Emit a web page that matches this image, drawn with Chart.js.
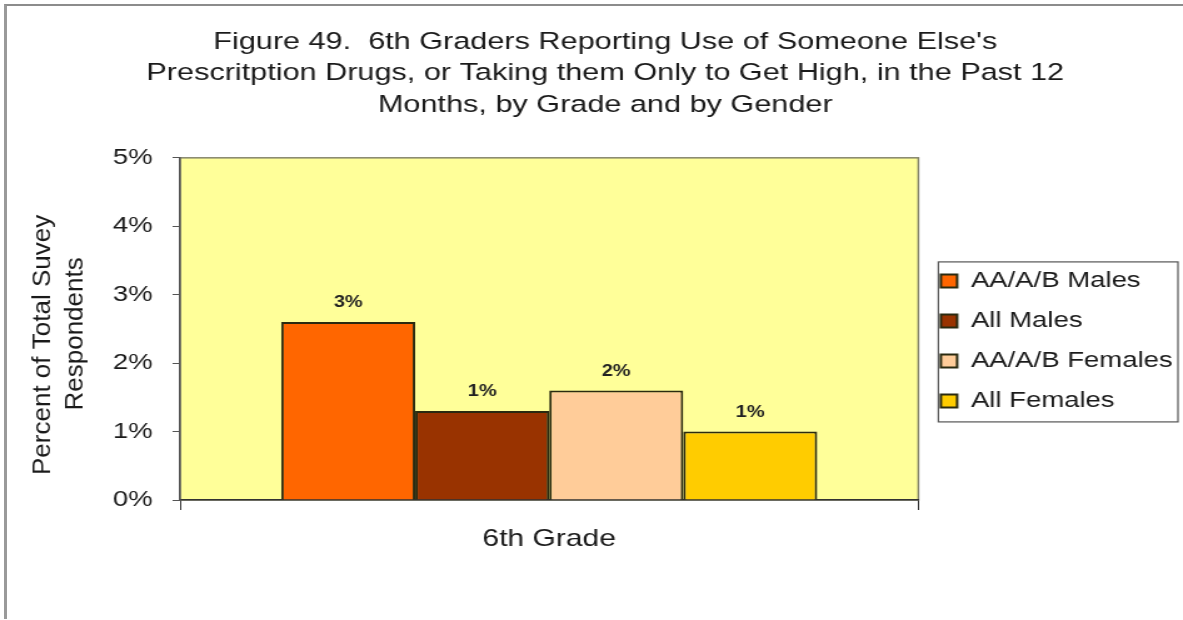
<!DOCTYPE html>
<html><head><meta charset="utf-8">
<script src="https://cdn.jsdelivr.net/npm/chart.js@4/dist/chart.umd.min.js"></script>
<style>
html,body{margin:0;padding:0;background:#fff;overflow:hidden;}
#page{position:relative;width:1183px;height:620px;overflow:hidden;background:#fff;}
#frame{position:absolute;left:4px;top:4px;width:1176px;height:613px;border-left:3px solid #9a9a9a;border-top:2px solid #8c8c8c;}
#wrap{position:absolute;left:0;top:0;width:946px;height:620px;transform:scaleX(1.2505);transform-origin:0 0;}
</style></head>
<body><div id="page"><div id="frame"></div><div id="wrap"><canvas id="c" width="946" height="620"></canvas></div></div>
<script>
const titleLines = [
  "Figure 49.  6th Graders Reporting Use of Someone Else's",
  "Prescritption Drugs, or Taking them Only to Get High, in the Past 12",
  "Months, by Grade and by Gender"
];
const categories = ['6th Grade'];
const seriesNames = ['AA/A/B Males', 'All Males', 'AA/A/B Females', 'All Females'];
const aaMales = [2.6];
const allMales = [1.3];
const aaFemales = [1.6];
const allFemales = [1.0];
const yTickLabels = ['0%', '1%', '2%', '3%', '4%', '5%'];
const yAxisTitle = ['Percent of Total Suvey', 'Respondents'];
const seriesColors = ['#FF6600', '#993300', '#FFCC99', '#FFCC00'];

const FONT = "'Liberation Sans', Arial, sans-serif";
const STRETCH = 1.2505;
const seriesValues = [aaMales, allMales, aaFemales, allFemales];

const plotAreaPlugin = {
  id: 'plotArea',
  beforeDraw(chart) {
    const {ctx, chartArea: {left, top, right, bottom}} = chart;
    ctx.save();
    ctx.fillStyle = '#FFFF99';
    ctx.fillRect(left, top, right - left, bottom - top);
    ctx.strokeStyle = '#85856c';
    ctx.lineWidth = 1.5;
    ctx.strokeRect(left, top, right - left, bottom - top);
    ctx.restore();
  }
};

const valueLabelPlugin = {
  id: 'valueLabels',
  afterDatasetsDraw(chart) {
    const ctx = chart.ctx;
    ctx.save();
    ctx.font = 'bold 16px ' + FONT;
    ctx.fillStyle = '#222';
    ctx.textAlign = 'center';
    ctx.textBaseline = 'middle';
    chart.data.datasets.forEach((ds, i) => {
      chart.getDatasetMeta(i).data.forEach((bar, j) => {
        ctx.fillText(Math.round(ds.data[j]) + '%', bar.x, bar.y - 19);
      });
    });
    ctx.restore();
  }
};

const yTitlePlugin = {
  id: 'yTitle',
  afterDraw(chart) {
    const ctx = chart.ctx;
    const sc = chart.scales.y;
    const midY = (sc.top + sc.bottom) / 2;
    const lines = [
      {text: yAxisTitle[0], x: sc.left + 12.4, y: midY + 16},
      {text: yAxisTitle[1], x: sc.left + 38, y: midY + 5}
    ];
    ctx.save();
    ctx.font = '26px ' + FONT;
    ctx.fillStyle = '#1a1a1a';
    ctx.textAlign = 'center';
    ctx.textBaseline = 'middle';
    lines.forEach(l => {
      ctx.save();
      ctx.translate(l.x, l.y);
      ctx.scale(1 / STRETCH, 1);
      ctx.rotate(-Math.PI / 2);
      ctx.fillText(l.text, 0, 0);
      ctx.restore();
    });
    ctx.restore();
  }
};

const legendBoxPlugin = {
  id: 'legendBox',
  afterDraw(chart) {
    const lg = chart.legend;
    const hb = lg && lg.legendHitBoxes;
    if (!hb || !hb.length) return;
    const last = hb[hb.length - 1];
    const l = lg.left + 16, r = lg.right - 4;
    const t = hb[0].top - 8, b = last.top + last.height + 10;
    const ctx = chart.ctx;
    ctx.save();
    ctx.strokeStyle = '#555';
    ctx.lineWidth = 1.2;
    ctx.strokeRect(l, t, r - l, b - t);
    ctx.restore();
  }
};

new Chart(document.getElementById('c'), {
  type: 'bar',
  data: {
    labels: categories,
    datasets: seriesNames.map((name, i) => ({
      label: name,
      data: seriesValues[i],
      backgroundColor: seriesColors[i],
      borderColor: '#2a2a10',
      borderWidth: 2,
      categoryPercentage: 0.726,
      barPercentage: 1.0
    }))
  },
  options: {
    responsive: false,
    animation: false,
    devicePixelRatio: 1,
    layout: {padding: {top: 10, left: 22, right: 0, bottom: 0}},
    plugins: {
      tooltip: {enabled: false},
      title: {
        display: true,
        text: titleLines,
        color: '#1a1a1a',
        font: {family: FONT, size: 24.5, weight: 'normal', lineHeight: 1.29},
        padding: {top: 16, bottom: 37}
      },
      legend: {
        display: true,
        position: 'right',
        fullSize: false,
        maxWidth: 211.6,
        title: {display: true, text: '', font: {size: 10, lineHeight: 1.2}, padding: 6},
        labels: {
          color: '#1a1a1a',
          font: {family: FONT, size: 22},
          boxWidth: 13,
          boxHeight: 13,
          padding: 18
        }
      }
    },
    scales: {
      x: {
        grid: {display: true, drawOnChartArea: false, drawTicks: true, tickLength: 10, color: '#333', offset: true},
        border: {display: true, color: '#333', width: 1.5},
        ticks: {color: '#1a1a1a', font: {family: FONT, size: 24}, padding: 15},
        afterFit(scale) { scale.height = 120; }
      },
      y: {
        min: 0,
        max: 5,
        grid: {display: true, drawOnChartArea: false, drawTicks: true, tickLength: 6, color: '#555'},
        border: {display: true, color: '#555', width: 1.5},
        ticks: {
          stepSize: 1,
          color: '#1a1a1a',
          font: {family: FONT, size: 22},
          padding: 16,
          callback: (v, idx) => yTickLabels[idx]
        },
        title: {display: false},
        afterFit(scale) { scale.width = 122; }
      }
    }
  },
  plugins: [plotAreaPlugin, valueLabelPlugin, yTitlePlugin, legendBoxPlugin]
});
</script>
</body></html>
